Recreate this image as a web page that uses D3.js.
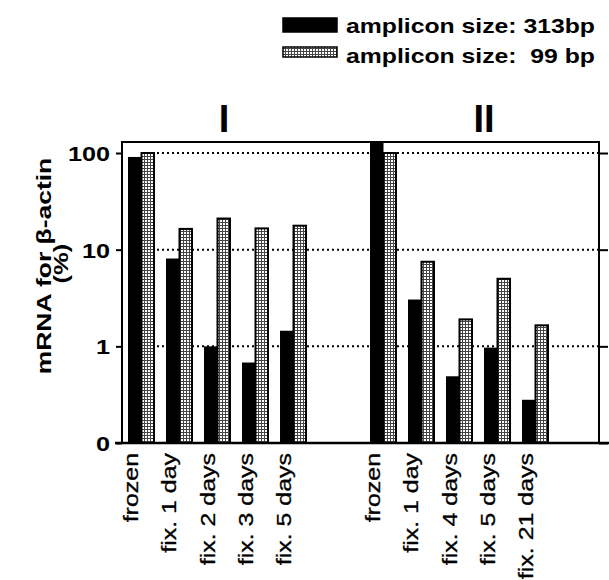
<!DOCTYPE html>
<html>
<head>
<meta charset="utf-8">
<script src="https://cdn.jsdelivr.net/npm/d3@7"></script>
<style>
  body { margin: 0; background: #fff; }
  svg { display: block; font-family: "Liberation Sans", Arial, Helvetica, sans-serif; }
  .legend text { white-space: pre; }
</style>
</head>
<body>
<svg id="chart" width="609" height="580"></svg>
<script>
// data
var seriesNames = ["amplicon size: 313bp", "amplicon size:  99 bp"];

var catsI = ["frozen", "fix. 1 day", "fix. 2 days", "fix. 3 days", "fix. 5 days"];
var bp313I = [91, 8.1, 1.0, 0.68, 1.45];
var bp99I = [100, 16.4, 21, 16.6, 17.7];

var catsII = ["frozen", "fix. 1 day", "fix. 4 days", "fix. 5 days", "fix. 21 days"];
var bp313II = [140, 3.05, 0.49, 0.97, 0.28]; // first one runs off the top
var bp99II = [100, 7.5, 1.9, 5.0, 1.65];

var yTicks = [0.1, 1, 10, 100];

var svg = d3.select("#chart");
var width = 609, height = 580;

// frame
var plotLeft = 122, plotRight = 599, plotTop = 142, plotBottom = 443;

// pattern for the stippled grey bars (fine grid)
var defs = svg.append("defs");
var pat = defs.append("pattern")
    .attr("id", "stipple")
    .attr("width", 3).attr("height", 3)
    .attr("patternUnits", "userSpaceOnUse");
pat.append("rect").attr("width", 3).attr("height", 3).attr("fill", "#fff");
pat.append("rect").attr("width", 3).attr("height", 1).attr("fill", "#444");
pat.append("rect").attr("width", 1).attr("height", 3).attr("fill", "#444");

var y = d3.scaleLog().domain([0.1, 130]).range([plotBottom, plotTop]).clamp(true);

var panels = [
    {label: "I", cats: catsI, a: bp313I, b: bp99I, range: [128, 307], labelX: 224},
    {label: "II", cats: catsII, a: bp313II, b: bp99II, range: [370, 549], labelX: 484}
];

panels.forEach(function (p) {
    p.x = d3.scaleBand().domain(p.cats).range(p.range).paddingInner(0.29).paddingOuter(0);
    p.sub = d3.scaleBand().domain([0, 1]).range([0, p.x.bandwidth()]);
});

// dotted grid lines
var gridStart = panels[0].x(catsI[1]) - 9;
svg.append("g").selectAll("line")
    .data([1, 10, 100])
    .enter().append("line")
    .attr("x1", gridStart).attr("x2", plotRight)
    .attr("y1", function (d) { return y(d); })
    .attr("y2", function (d) { return y(d); })
    .attr("stroke", "#000")
    .attr("stroke-width", 2)
    .attr("stroke-dasharray", "2,3");

// bars
panels.forEach(function (p) {
    var g = svg.append("g");
    p.cats.forEach(function (c, i) {
        var x0 = p.x(c);
        g.append("rect")
            .attr("x", x0 + p.sub(0))
            .attr("y", y(p.a[i]))
            .attr("width", p.sub.bandwidth())
            .attr("height", plotBottom - y(p.a[i]))
            .attr("fill", "#000");
        g.append("rect")
            .attr("x", x0 + p.sub(1))
            .attr("y", y(p.b[i]))
            .attr("width", p.sub.bandwidth() - 1)
            .attr("height", plotBottom - y(p.b[i]))
            .attr("fill", "url(#stipple)")
            .attr("stroke", "#000")
            .attr("stroke-width", 2);

        // category label, rotated
        svg.append("text")
            .attr("transform", "translate(" + (x0 + p.x.bandwidth() / 2 - 3) + "," + (plotBottom + 10) + ") rotate(-90) scale(1.28,1)")
            .attr("text-anchor", "end")
            .attr("font-size", 19.5)
            .attr("stroke", "#000")
            .attr("stroke-width", 0.3)
            .text(c);
    });

    svg.append("text")
        .attr("x", p.labelX)
        .attr("y", plotTop - 10)
        .attr("text-anchor", "middle")
        .attr("font-size", 38)
        .attr("font-weight", "bold")
        .text(p.label);
});

// frame
svg.append("path")
    .attr("d", "M" + plotLeft + "," + plotBottom + "V" + plotTop + "H" + plotRight + "V" + plotBottom)
    .attr("fill", "none")
    .attr("stroke", "#000")
    .attr("stroke-width", 2);
svg.append("line")
    .attr("x1", plotLeft - 7).attr("x2", width)
    .attr("y1", plotBottom).attr("y2", plotBottom)
    .attr("stroke", "#000").attr("stroke-width", 2.5);

// left axis
var yAxis = d3.axisLeft(y)
    .tickValues(yTicks)
    .tickSize(6)
    .tickFormat(function (d) { return d < 1 ? "0" : d; });

var ga = svg.append("g")
    .attr("transform", "translate(" + plotLeft + ",0)")
    .call(yAxis);
ga.select(".domain").remove();
ga.selectAll("line").attr("stroke-width", 2);
ga.selectAll("text")
    .attr("x", -12 / 1.2)
    .attr("dy", "0.36em")
    .attr("transform", "scale(1.2,1)")
    .attr("font-size", 21)
    .attr("font-weight", "bold")
    .attr("font-family", null);

// right axis ticks
var gr = svg.append("g")
    .attr("transform", "translate(" + plotRight + ",0)")
    .call(d3.axisRight(y).tickValues(yTicks).tickSize(9).tickFormat(""));
gr.select(".domain").remove();
gr.selectAll("line").attr("stroke-width", 2);

// y title
var title = svg.append("g").attr("transform", "translate(0,266) rotate(-90)");
var t1 = title.append("text")
    .attr("x", 0).attr("y", 51)
    .attr("text-anchor", "middle")
    .attr("font-size", 21)
    .attr("font-weight", "bold")
    .attr("transform", "scale(1.26,1)");
t1.append("tspan").text("mRNA for ");
t1.append("tspan").text("\u03b2");
t1.append("tspan").text("-actin");
title.append("text")
    .attr("x", 2).attr("y", 68)
    .attr("text-anchor", "middle")
    .attr("font-size", 21)
    .attr("font-weight", "bold")
    .attr("transform", "scale(1.22,1)")
    .text("(%)");

// legend
var legend = svg.append("g").attr("class", "legend");
var legRows = [
    {name: seriesNames[0], fill: "#000", y: 18, h: 14, base: 33},
    {name: seriesNames[1], fill: "url(#stipple)", y: 47, h: 10, base: 63}
];
legRows.forEach(function (r) {
    legend.append("rect")
        .attr("x", 283).attr("y", r.y)
        .attr("width", 54).attr("height", r.h)
        .attr("fill", r.fill)
        .attr("stroke", "#000")
        .attr("stroke-width", 1.5);
    legend.append("text")
        .attr("x", 346).attr("y", r.base)
        .attr("font-size", 21)
        .attr("font-weight", "bold")
        .attr("textLength", 249)
        .attr("lengthAdjust", "spacingAndGlyphs")
        .text(r.name);
});
</script>
</body>
</html>
